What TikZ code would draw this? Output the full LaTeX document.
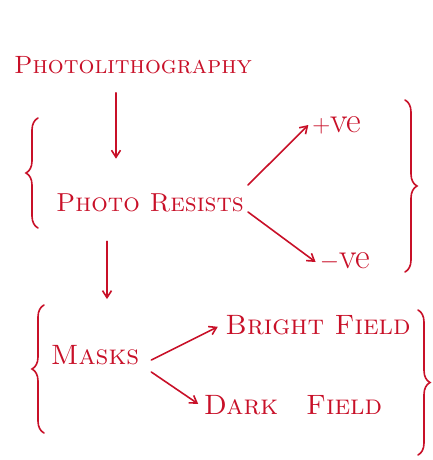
\documentclass[tikz,border=0pt]{standalone}
\usepackage{color}
\usepackage{amsmath,amssymb}
\usepackage{tikz}
\usetikzlibrary{arrows.meta}
\usetikzlibrary{decorations.pathreplacing}
\definecolor{ink}{RGB}{200,16,40}

\begin{document}
\begin{tikzpicture}[x=1pt,y=-1pt,
    ink/.style={color=ink,line width=1.6pt,line cap=round},
    tip/.style={-{Straight Barb[length=7pt,width=9pt]}},
    word/.style={ink},
    curly/.style={ink,decorate,decoration={brace,amplitude=12pt}}]
  \useasboundingbox (0,0) rectangle (433,460);
  % words
  \node[word,font=\fontsize{25}{27}\selectfont\scshape] (litho) at (133,65)
    {Photolithography};
  \node[word,font=\fontsize{26}{28}\selectfont\scshape] (resist) at (150,203)
    {Photo Resists};
  \node[word,font=\fontsize{36}{38}\selectfont] (pos) at (337,125) {$+$ve};
  \node[word,font=\fontsize{36}{38}\selectfont] (neg) at (345,262) {$-$ve};
  \node[word,font=\fontsize{28}{30}\selectfont\scshape] (mask) at (95,355)
    {Masks};
  \node[word,font=\fontsize{28}{30}\selectfont\scshape] (bright) at (318,325)
    {Bright Field};
  \node[word,font=\fontsize{28}{30}\selectfont\scshape] (dark) at (293,405)
    {Dark\quad Field};
  % arrows
  \draw[ink,tip,shorten <=15pt,shorten >=31pt]
    (litho.south -| 116,0)
    --
    (resist.north -| 116,0);
  \draw[ink,tip,shorten <=25pt,shorten >=42pt]
    (resist.south -| 107,0)
    --
    (mask.north -| 107,0);
  \draw[ink,tip]
    (resist.east) ++(0,-18)
    --
    (pos.west);
  \draw[ink,tip]
    (resist.east) ++(0,9)
    --
    (neg.west);
  \draw[ink,tip,shorten >=4pt]
    (mask.east) ++(8,5)
    --
    (bright.west);
  \draw[ink,tip,shorten >=2pt]
    (mask.east) ++(8,17)
    --
    (dark.west);
  % braces
  \draw[curly]
    (38,228)
    --
    (38,118);
  \draw[curly]
    (405,100)
    --
    (405,272);
  \draw[curly]
    (44,433)
    --
    (44,305);
  \draw[curly]
    (418,310)
    --
    (418,455);
\end{tikzpicture}
\end{document}
